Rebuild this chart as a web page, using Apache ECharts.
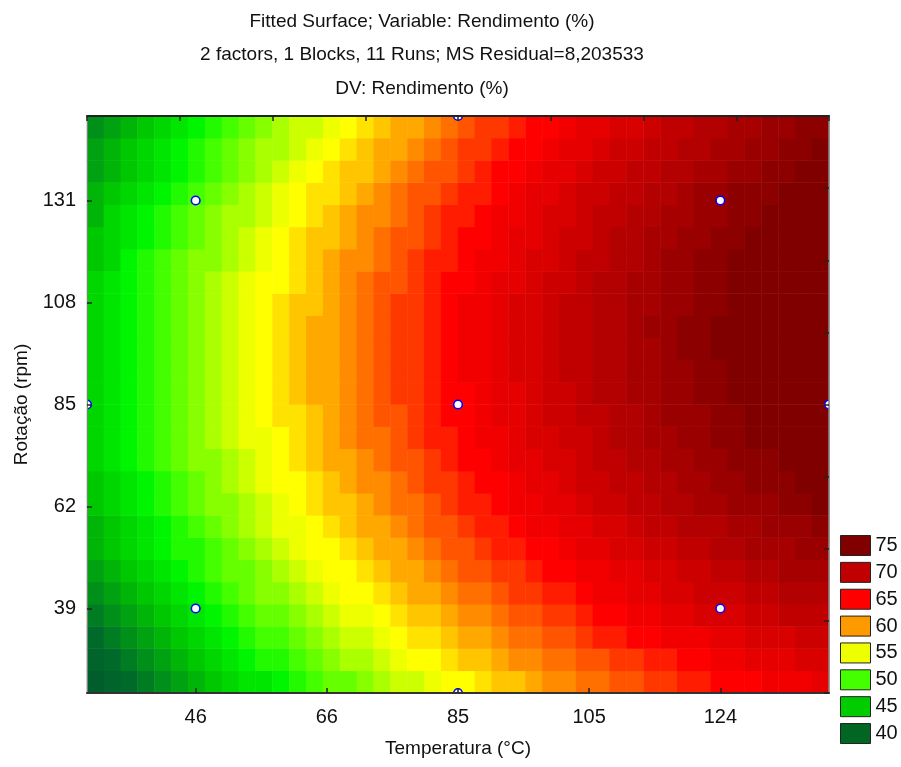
<!DOCTYPE html>
<html><head><meta charset="utf-8">
<script src="https://cdn.jsdelivr.net/npm/echarts@6/dist/echarts.min.js"></script>
<style>html,body{margin:0;padding:0;background:#fff}#c{width:901px;height:767px}</style>
</head><body><div id="c"></div>
<script>
const FONT = "'Liberation Sans', Arial, sans-serif";
const titleLines = ['Fitted Surface; Variable: Rendimento (%)','2 factors, 1 Blocks, 11 Runs; MS Residual=8,203533','DV: Rendimento (%)'];
const xAxisName = 'Temperatura (°C)';
const yAxisName = 'Rotação (rpm)';
const xRange = [29.85, 140.15];
const yRange = [19.95, 150.05];
const xTicks = [46, 65.5, 85, 104.5, 124];
const xTickLabels = ['46','66','85','105','124'];
const yTicks = [39, 62, 85, 108, 131];
const yTickLabels = ['39','62','85','108','131'];
// design runs (Temperatura, Rotação)
const runsX = [46,46,124,124,29.85,140.15,85,85,85];
const runsY = [39,131,39,131,85,85,19.95,150.05,85];
const legendLevels = ['75','70','65','60','55','50','45','40'];
const legendColors = ['#800000','#c00000','#ff0000','#ff9900','#eeff00','#44ff00','#00cc00','#006622'];
// fitted Rendimento (%): 44 columns (Temperatura, left->right) x 26 rows (Rotação, bottom->top)
const yieldGrid = [
[38,39,40,41,42,43,44,45,46,47,47,48,49,50,51,51,52,53,54,54,55,56,56,57,58,58,59,60,60,61,61,62,62,63,63,64,64,65,65,65,66,66,66,67],
[39,40,41,42,43,44,45,46,47,48,49,49,50,51,52,53,53,54,55,56,56,57,58,58,59,60,60,61,61,62,62,63,63,64,64,65,65,66,66,67,67,67,68,68],
[40,41,42,43,44,45,46,47,48,49,50,50,51,52,53,54,54,55,56,57,57,58,59,59,60,61,61,62,62,63,64,64,65,65,66,66,66,67,67,68,68,68,69,69],
[41,42,43,44,45,46,47,48,49,50,51,51,52,53,54,55,55,56,57,58,58,59,60,60,61,62,62,63,63,64,65,65,66,66,67,67,68,68,68,69,69,70,70,70],
[42,43,44,45,46,47,48,49,50,51,52,52,53,54,55,56,56,57,58,59,59,60,61,61,62,63,63,64,64,65,66,66,67,67,68,68,69,69,69,70,70,71,71,71],
[43,44,45,46,47,48,49,50,51,51,52,53,54,55,56,56,57,58,59,59,60,61,62,62,63,63,64,65,65,66,66,67,67,68,68,69,69,70,70,71,71,72,72,72],
[44,45,46,47,48,49,49,50,51,52,53,54,55,56,56,57,58,59,59,60,61,62,62,63,64,64,65,65,66,67,67,68,68,69,69,70,70,71,71,72,72,72,73,73],
[44,45,46,47,48,49,50,51,52,53,54,55,55,56,57,58,59,59,60,61,62,62,63,64,64,65,66,66,67,67,68,68,69,70,70,71,71,71,72,72,73,73,73,74],
[45,46,47,48,49,50,51,52,52,53,54,55,56,57,58,58,59,60,61,61,62,63,64,64,65,66,66,67,67,68,69,69,70,70,71,71,72,72,73,73,73,74,74,75],
[45,46,47,48,49,50,51,52,53,54,55,56,56,57,58,59,60,60,61,62,63,63,64,65,65,66,67,67,68,69,69,70,70,71,71,72,72,73,73,74,74,74,75,75],
[46,47,48,49,50,51,52,52,53,54,55,56,57,58,59,59,60,61,62,62,63,64,65,65,66,67,67,68,68,69,70,70,71,71,72,72,73,73,74,74,74,75,75,76],
[46,47,48,49,50,51,52,53,54,55,55,56,57,58,59,60,61,61,62,63,64,64,65,66,66,67,68,68,69,69,70,71,71,72,72,73,73,74,74,75,75,75,76,76],
[46,47,48,49,50,51,52,53,54,55,56,57,57,58,59,60,61,62,62,63,64,65,65,66,67,67,68,69,69,70,70,71,71,72,73,73,73,74,74,75,75,76,76,76],
[46,47,48,49,50,51,52,53,54,55,56,57,58,59,59,60,61,62,63,63,64,65,65,66,67,67,68,69,69,70,71,71,72,72,73,73,74,74,75,75,76,76,76,77],
[46,47,48,49,50,51,52,53,54,55,56,57,58,59,59,60,61,62,63,63,64,65,66,66,67,68,68,69,70,70,71,71,72,72,73,73,74,74,75,75,76,76,77,77],
[46,47,48,49,50,51,52,53,54,55,56,57,58,59,59,60,61,62,63,63,64,65,66,66,67,68,68,69,70,70,71,71,72,72,73,74,74,75,75,75,76,76,77,77],
[46,47,48,49,50,51,52,53,54,55,56,57,58,59,59,60,61,62,63,63,64,65,66,66,67,68,68,69,70,70,71,71,72,73,73,74,74,75,75,75,76,76,77,77],
[46,47,48,49,50,51,52,53,54,55,56,57,58,58,59,60,61,62,63,63,64,65,66,66,67,68,68,69,70,70,71,71,72,72,73,73,74,74,75,75,76,76,77,77],
[46,47,48,49,50,51,52,53,54,55,56,56,57,58,59,60,61,62,62,63,64,65,65,66,67,67,68,69,69,70,71,71,72,72,73,73,74,74,75,75,76,76,77,77],
[45,46,48,49,50,51,52,52,53,54,55,56,57,58,59,60,60,61,62,63,64,64,65,66,66,67,68,68,69,70,70,71,71,72,73,73,74,74,75,75,76,76,76,77],
[45,46,47,48,49,50,51,52,53,54,55,56,57,58,58,59,60,61,62,62,63,64,65,65,66,67,67,68,69,69,70,71,71,72,72,73,73,74,74,75,75,76,76,77],
[44,46,47,48,49,50,51,52,53,53,54,55,56,57,58,59,60,60,61,62,63,64,64,65,66,66,67,68,68,69,70,70,71,71,72,72,73,73,74,74,75,75,76,76],
[44,45,46,47,48,49,50,51,52,53,54,55,56,57,57,58,59,60,61,62,62,63,64,64,65,66,67,67,68,69,69,70,70,71,71,72,73,73,74,74,74,75,75,76],
[43,44,45,46,47,48,49,50,51,52,53,54,55,56,57,58,58,59,60,61,62,62,63,64,65,65,66,67,67,68,69,69,70,70,71,71,72,72,73,73,74,74,75,75],
[43,44,45,46,47,48,49,50,51,52,53,53,54,55,56,57,58,59,59,60,61,62,63,63,64,65,65,66,67,67,68,69,69,70,70,71,71,72,72,73,73,74,74,75],
[42,43,44,45,46,47,48,49,50,51,52,53,54,54,55,56,57,58,59,59,60,61,62,63,63,64,65,65,66,67,67,68,68,69,70,70,71,71,72,72,73,73,74,74]
];
// colour ramp (style): anchor value -> colour, expanded to one stop per unit
const rampStops = [[35,'#004d2e'],[40,'#006a2a'],[45,'#00c800'],[48,'#00f500'],[50,'#44ff00'],[55,'#eeff00'],[56,'#ffff00'],[60,'#ff8c00'],[65,'#ff0000'],[70,'#c00000'],[75,'#800000'],[80,'#800000']];
function hex2rgb(h){return [1,3,5].map(k=>parseInt(h.substr(k,2),16));}
const rampColors = [];
for (let v=35; v<=80; v++){
  let k=0; while (k<rampStops.length-2 && v>rampStops[k+1][0]) k++;
  const a=rampStops[k], b=rampStops[k+1], t=(v-a[0])/(b[0]-a[0]);
  const ca=hex2rgb(a[1]), cb=hex2rgb(b[1]);
  rampColors.push('rgb('+ca.map((c,q)=>Math.round(c+(cb[q]-c)*t)).join(',')+')');
}
const nx = yieldGrid[0].length, ny = yieldGrid.length;
const xCats = Array.from({length:nx},(_, i)=>(xRange[0]+(i+0.5)*(xRange[1]-xRange[0])/nx).toFixed(1));
const yCats = Array.from({length:ny},(_, j)=>(yRange[0]+(j+0.5)*(yRange[1]-yRange[0])/ny).toFixed(1));
const cells = [];
yieldGrid.forEach((row,j)=>row.forEach((v,i)=>cells.push([i,j,v])));
const txt = {fontFamily: FONT, fontSize: 20, color: '#111'};
const G = {left:87,top:116,width:742,height:577,show:false};
const chart = echarts.init(document.getElementById('c'));
const option = {
  animation:false, backgroundColor:'#fff',
  title:{text:titleLines.join('\n'), left:422, top:5, textAlign:'center', padding:0,
    textStyle:{fontFamily:FONT,fontSize:19,fontWeight:'normal',color:'#111',lineHeight:33.5}},
  grid:[Object.assign({},G),Object.assign({},G)],
  xAxis:[
    {gridIndex:0,type:'category',data:xCats,show:false},
    {gridIndex:1,type:'value',position:'bottom',min:xRange[0],max:xRange[1],z:10,
     name:xAxisName,nameLocation:'middle',nameGap:46,nameTextStyle:Object.assign({verticalAlign:'top'},txt,{fontSize:19}),
     axisLine:{show:true,onZero:false,lineStyle:{color:'#333',width:2}},
     axisTick:{show:true,inside:true,length:5,customValues:xTicks,lineStyle:{color:'#222',width:1.5}},
     axisLabel:Object.assign({customValues:xTicks,margin:14,formatter:v=>xTickLabels[xTicks.indexOf(v)]},txt),
     splitLine:{show:false}},
    {gridIndex:1,type:'value',position:'top',min:0,max:8,interval:1,z:10,
     axisLine:{show:true,onZero:false,lineStyle:{color:'#222',width:2}},
     axisTick:{show:true,inside:true,length:5,lineStyle:{color:'#222',width:1.5}},
     axisLabel:{show:false},splitLine:{show:false}}
  ],
  yAxis:[
    {gridIndex:0,type:'category',data:yCats,show:false},
    {gridIndex:1,type:'value',position:'left',min:yRange[0],max:yRange[1],z:10,
     name:yAxisName,nameLocation:'middle',nameGap:51,nameTextStyle:Object.assign({},txt,{fontSize:19}),
     axisLine:{show:true,onZero:false,lineStyle:{color:'#808080',width:1}},
     axisTick:{show:true,inside:true,length:5,customValues:yTicks,lineStyle:{color:'#222',width:1.5}},
     axisLabel:Object.assign({customValues:yTicks,margin:11,formatter:v=>yTickLabels[yTicks.indexOf(v)]},txt),
     splitLine:{show:false}},
    {gridIndex:1,type:'value',position:'right',min:0,max:8,interval:1,z:10,
     axisLine:{show:true,onZero:false,lineStyle:{color:'#8a8a8a',width:1.5}},
     axisTick:{show:true,inside:true,length:5,lineStyle:{color:'#222',width:1.5}},
     axisLabel:{show:false},splitLine:{show:false}}
  ],
  visualMap:{type:'continuous',show:false,seriesIndex:0,min:35,max:80,dimension:2,inRange:{color:rampColors}},
  legend:{orient:'vertical',left:840,top:535,itemWidth:30,itemHeight:20,itemGap:5.86,icon:'rect',padding:0,
    selectedMode:false,data:legendLevels,itemStyle:{borderColor:'#222',borderWidth:1,opacity:1},
    textStyle:{fontFamily:FONT,fontSize:20,color:'#111',lineHeight:20}},
  series:[
    {type:'heatmap',xAxisIndex:0,yAxisIndex:0,data:cells,progressive:0,itemStyle:{borderWidth:0}},
    {type:'custom',xAxisIndex:1,yAxisIndex:1,clip:true,z:5,
     data:runsX.map((x,i)=>[x,runsY[i]]),
     renderItem:(p,api)=>{const c=api.coord([api.value(0),api.value(1)]);
       return {type:'circle',shape:{cx:c[0],cy:c[1],r:4.3},style:{fill:'#fff',stroke:'#0000ff',lineWidth:1.6}};}}
  ].concat(legendLevels.map((n,k)=>({type:'scatter',name:n,xAxisIndex:1,yAxisIndex:1,data:[],itemStyle:{color:legendColors[k],opacity:1}})))
};
chart.setOption(option);
</script></body></html>
